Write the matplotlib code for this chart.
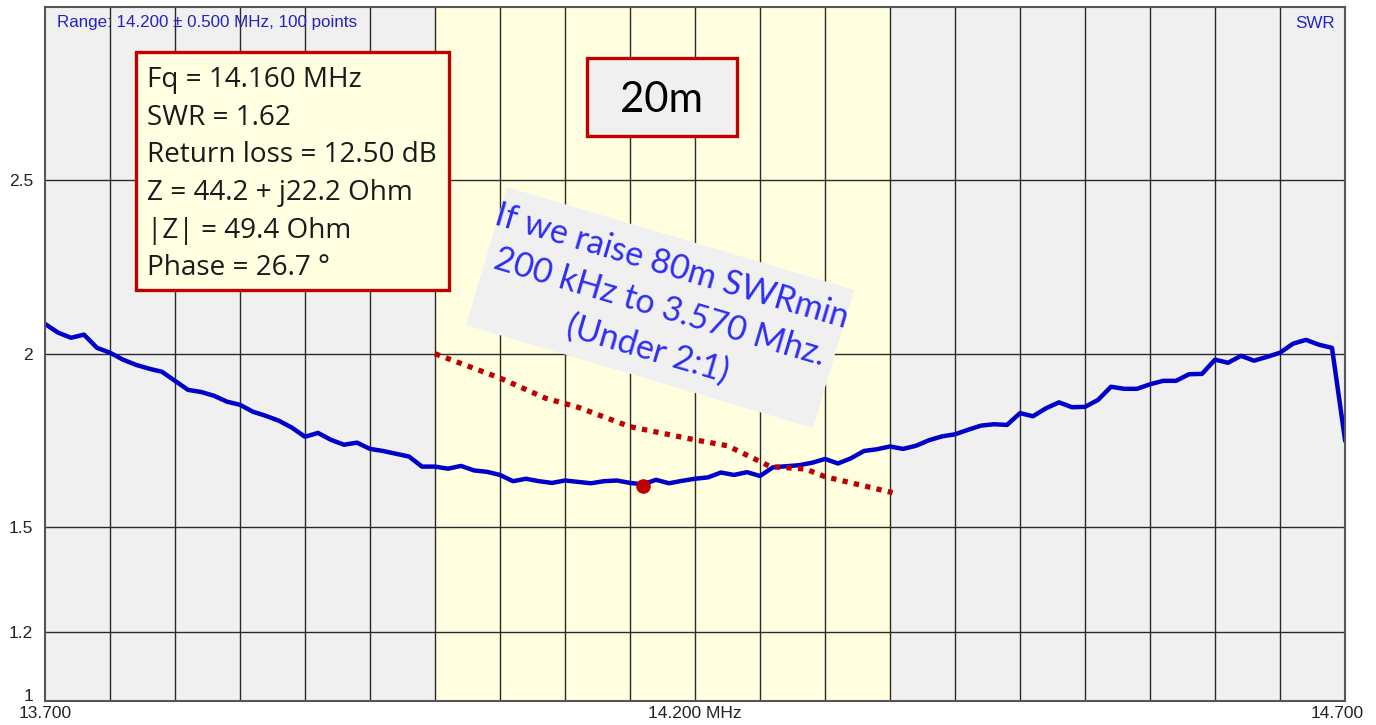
import numpy as np
import matplotlib
matplotlib.use("Agg")
import matplotlib.pyplot as plt
from matplotlib.patches import Rectangle
import matplotlib.transforms as mtransforms

# ---------------- data ----------------
freq_start, freq_stop = 13.700, 14.700
swr = [2.086, 2.061, 2.046, 2.055, 2.017, 2.003, 1.983, 1.968, 1.957, 1.948,
       1.922, 1.896, 1.890, 1.879, 1.862, 1.853, 1.833, 1.821, 1.807, 1.787,
       1.761, 1.772, 1.752, 1.738, 1.744, 1.726, 1.720, 1.712, 1.704, 1.675,
       1.675, 1.669, 1.677, 1.664, 1.660, 1.651, 1.633, 1.640, 1.633, 1.628,
       1.635, 1.631, 1.627, 1.633, 1.635, 1.628, 1.624, 1.637, 1.627, 1.634,
       1.640, 1.644, 1.658, 1.651, 1.659, 1.648, 1.673, 1.676, 1.679, 1.686,
       1.697, 1.684, 1.699, 1.720, 1.725, 1.733, 1.726, 1.735, 1.751, 1.762,
       1.768, 1.781, 1.793, 1.797, 1.795, 1.829, 1.820, 1.843, 1.860, 1.846,
       1.847, 1.867, 1.905, 1.899, 1.899, 1.912, 1.922, 1.922, 1.941, 1.942,
       1.983, 1.974, 1.994, 1.980, 1.991, 2.003, 2.029, 2.040, 2.026, 2.017,
       1.752]
freq = np.linspace(freq_start, freq_stop, len(swr))

band_start, band_stop = 14.000, 14.350

proj_freq = [14.000, 14.050, 14.085, 14.110, 14.150, 14.200, 14.225, 14.258,
             14.285, 14.300, 14.352]
proj_swr = [2.000, 1.930, 1.872, 1.846, 1.790, 1.752, 1.735, 1.675,
            1.668, 1.646, 1.600]

marker_freq, marker_swr = 14.160, 1.62

xtick_vals = [13.700, 14.200, 14.700]
xtick_labels = ["13.700", "14.200 MHz", "14.700"]
ytick_vals = [1, 1.2, 1.5, 2, 2.5]
ytick_labels = ["1", "1.2", "1.5", "2", "2.5"]
grid_step = 0.05

info_lines = ["Fq = 14.160 MHz", "SWR = 1.62", "Return loss = 12.50 dB",
              "Z = 44.2 + j22.2 Ohm", "|Z| = 49.4 Ohm", "Phase = 26.7 \u00b0"]
range_text = "Range: 14.200 \u00b1 0.500 MHz, 100 points"
band_label = "20m"
note_text = "If we raise 80m SWRmin\n200 kHz to 3.570 Mhz.\n(Under 2:1)"

# ---------------- figure ----------------
W, H, DPI = 1376, 725, 100
fig = plt.figure(figsize=(W / DPI, H / DPI), dpi=DPI, facecolor="white")
ax = fig.add_axes([45 / W, 1 - 701 / H, 1300 / W, (701 - 6.5) / H])
ax.set_facecolor("#F0F0F0")

ax.axvspan(band_start, band_stop, color="#FFFFDF", zorder=0.5, lw=0)

grid_color = "#2a2a2a"
for g in np.arange(freq_start + grid_step, freq_stop - 1e-9, grid_step):
    ax.axvline(g, color=grid_color, lw=1.0, zorder=1)
for v in ytick_vals[1:]:
    ax.axhline(v, color=grid_color, lw=1.0, zorder=1)

ax.plot(freq, swr, color="#0000C8", lw=3.2, zorder=3, solid_joinstyle="round")
ax.plot(proj_freq, proj_swr, color="#C00000", lw=3.8, ls=(0, (1, 1.2)), zorder=4)
ax.plot([marker_freq], [marker_swr], "o", color="#C00000", ms=9.5, zorder=5)

ax.set_xlim(freq_start, freq_stop)
ax.set_ylim(1, 3)
ax.set_xticks(xtick_vals)
ax.set_xticklabels(xtick_labels)
ax.set_yticks(ytick_vals)
ax.set_yticklabels(ytick_labels)
ax.tick_params(length=0, labelsize=12.5, colors="#222222", labelfontfamily="Liberation Sans")
ax.tick_params(axis="y", pad=8.6)
ax.tick_params(axis="x", pad=3.6)
for s in ax.spines.values():
    s.set_color("#555555")
    s.set_linewidth(1.5)
    s.set_zorder(6)

# adjust edge labels like the screenshot
ylabs = ax.get_yticklabels()
ylabs[0].set_verticalalignment("baseline")
xlabs = ax.get_xticklabels()
xlabs[-1].set_transform(xlabs[-1].get_transform() +
                        mtransforms.ScaledTranslation(-0.08, 0, fig.dpi_scale_trans))

pix = mtransforms.Affine2D().scale(1 / DPI) + fig.dpi_scale_trans

fig.canvas.draw()
renderer = fig.canvas.get_renderer()


def fit(t, target):
    w = t.get_window_extent(renderer).width
    t.set_fontsize(t.get_fontsize() * target / w)


# top labels
t = fig.text(57 / W, 1 - 23 / H, range_text, color="#2323C0", fontsize=11,
             family="Liberation Sans", ha="left", va="center", zorder=7)
fit(t, 300)
fig.text(1335 / W, 1 - 23 / H, "SWR", color="#2323C0", fontsize=t.get_fontsize(),
         family="Liberation Sans", ha="right", va="center", zorder=7)

# info box
fig.add_artist(Rectangle((136, 725 - 290), 313, 238, transform=pix,
                         facecolor="#FFFFE1", edgecolor="#C00000", lw=2.4, zorder=8))
texts = []
for k, line in enumerate(info_lines):
    tt = fig.text(147 / W, 1 - (87.3 + 37.6 * k) / H, line, color="#1a1a1a",
                  fontsize=18, family="Open Sans", ha="left", va="baseline", zorder=9)
    texts.append(tt)
w0 = texts[2].get_window_extent(renderer).width
fs = 18 * 290 / w0
for tt in texts:
    tt.set_fontsize(fs)

# 20m box
fig.add_artist(Rectangle((587, 725 - 136), 150, 78, transform=pix,
                         facecolor="#F0F0F0", edgecolor="#C00000", lw=2.4, zorder=8))
t20 = fig.text(661 / W, 1 - 111.5 / H, band_label, color="black", fontsize=28,
               family="Lato", ha="center", va="baseline", zorder=9)
fit(t20, 83)

# rotated note
cx, cy, ang = 660, 725 - 307.5, -16.5
rot = mtransforms.Affine2D().rotate_deg_around(cx, cy, ang) + pix
fig.add_artist(Rectangle((cx - 181, cy - 72), 362, 144, transform=rot,
                         facecolor="#F0F0F0", edgecolor="none", zorder=8))
tn = fig.text(cx / W, cy / H, note_text, color="#2E2EF2", fontsize=22,
              family="Lato", ha="center", va="center", multialignment="center",
              linespacing=1.42, zorder=9)
fit(tn, 366)
tn.set_rotation(ang)
tn.set_rotation_mode("anchor")

fig.savefig("out.png", dpi=DPI, facecolor="white")
